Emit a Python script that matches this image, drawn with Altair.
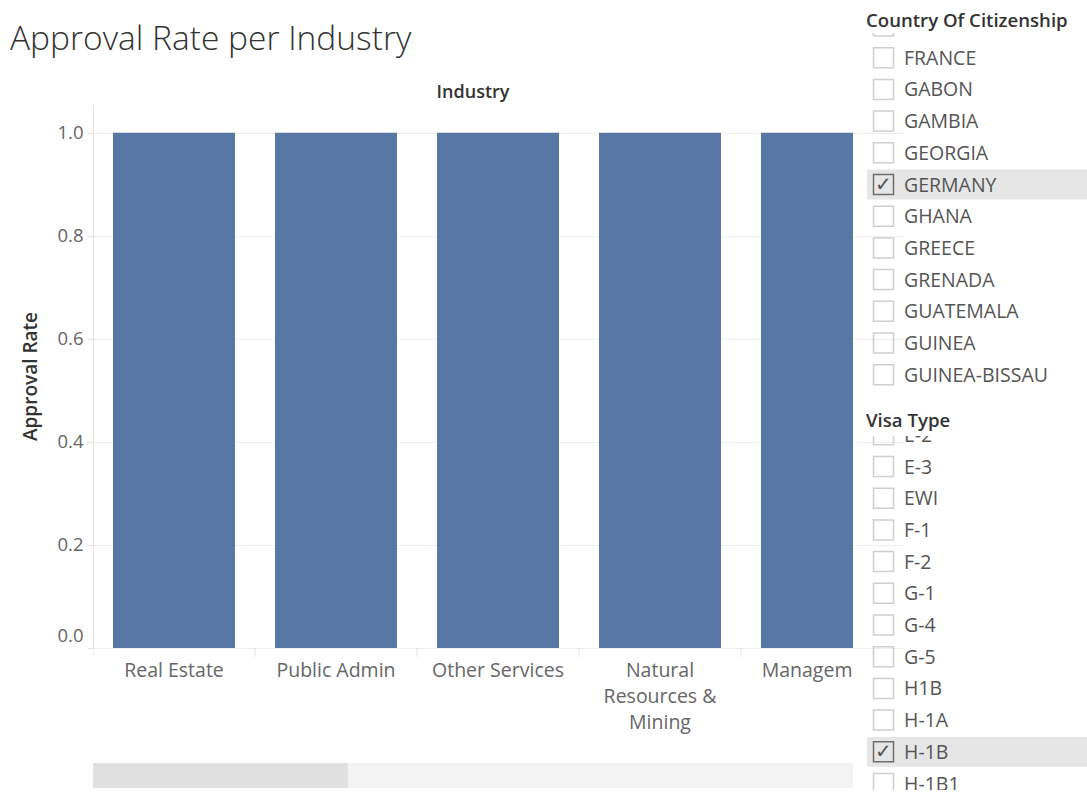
import altair as alt
import pandas as pd

# ---------------- data ----------------
industries = ["Real Estate", "Public Admin", "Other Services",
              "Natural Resources & Mining", "Management"]
approval_rate = [1.0, 1.0, 1.0, 1.0, 1.0]
industry_label_lines = [["Real Estate"], ["Public Admin"], ["Other Services"],
                        ["Natural", "Resources &", "Mining"], ["Management"]]
y_ticks = [0.0, 0.2, 0.4, 0.6, 0.8, 1.0]

chart_title = ["Approval Rate per Industry"]
column_header = ["Industry"]
y_title = "Approval Rate"

country_header = ["Country Of Citizenship"]
country_items = ["FINLAND", "FRANCE", "GABON", "GAMBIA", "GEORGIA", "GERMANY",
                 "GHANA", "GREECE", "GRENADA", "GUATEMALA", "GUINEA", "GUINEA-BISSAU"]
country_selected = ["GERMANY"]

visa_header = ["Visa Type"]
visa_items = ["E-2", "E-3", "EWI", "F-1", "F-2", "G-1", "G-4", "G-5",
              "H1B", "H-1A", "H-1B", "H-1B1"]
visa_selected = ["H-1B"]

industries_total = 14
industries_in_view = 4.69

# ---------------- style ----------------
FONT = "Open Sans"
BAR = "#5778a4"
GRID = "#eeeeee"
AXIS = "#e4e4e4"
TXT = "#666666"
DARK = "#333333"
PLOT_W = 760
STEP_RANGE = 810

# ---------------- header (title + "Industry") ----------------
title_text = alt.Chart(pd.DataFrame({"t": chart_title})).mark_text(
    align="left", baseline="alphabetic", font=FONT, fontSize=33.5, fontWeight=300, color=DARK
).encode(text="t:N", x=alt.value(-83), y=alt.value(50))

industry_head = alt.Chart(pd.DataFrame({"t": column_header})).mark_text(
    align="center", baseline="alphabetic", font=FONT, fontSize=18, fontWeight=600, color=DARK
).encode(text="t:N", x=alt.value(PLOT_W / 2), y=alt.value(98))

header = alt.layer(title_text, industry_head).properties(width=PLOT_W, height=104)

# ---------------- bars ----------------
bars_df = pd.DataFrame({"Industry": industries, "Approval Rate": approval_rate})
bars = alt.Chart(bars_df).mark_bar(color=BAR, clip=True).encode(
    x=alt.X("Industry:N", sort=industries, axis=None,
            scale=alt.Scale(domain=industries, range=[0, STEP_RANGE],
                            paddingInner=40 / 162, paddingOuter=20 / 162)),
    y=alt.Y("Approval Rate:Q", title=y_title,
            scale=alt.Scale(domain=[0, 1.056], nice=False, zero=True),
            axis=alt.Axis(values=y_ticks, format=".1f", labelFlush=True,
                          labelFlushOffset=-3,
                          labelFont=FONT, labelFontSize=18.5, labelColor=TXT,
                          labelPadding=4, tickSize=6, tickColor=AXIS,
                          domainColor=AXIS, gridColor=GRID,
                          titleFont=FONT, titleFontSize=19, titleFontWeight=600,
                          titleColor=DARK, titlePadding=16)),
).properties(width=PLOT_W, height=544)

# ---------------- x labels (clipped like the scrolled view) ----------------
lab_df = pd.DataFrame({"Industry": industries, "lines": industry_label_lines})
x_lab_scale = alt.Scale(domain=industries, range=[0, STEP_RANGE], paddingInner=0, paddingOuter=0)
lab_text = alt.Chart(lab_df).mark_text(
    clip=True, align="center", baseline="alphabetic", font=FONT, fontSize=19.5,
    lineHeight=26, color=TXT
).encode(x=alt.X("Industry:N", sort=industries, axis=None, scale=x_lab_scale),
         y=alt.value(29), text="lines")
lab_sep = alt.Chart(lab_df).mark_rule(clip=True, color=AXIS).encode(
    x=alt.X("Industry:N", sort=industries, axis=None, scale=x_lab_scale, bandPosition=0),
    y=alt.value(0), y2=alt.value(9))
labels = alt.layer(lab_sep, lab_text).properties(width=PLOT_W, height=115)

# ---------------- scroll bar ----------------
track = alt.Chart(pd.DataFrame({"s": [0], "e": [industries_total]})).mark_rect(color="#f3f3f3").encode(
    x=alt.X("s:Q", axis=None, scale=alt.Scale(domain=[0, industries_total], nice=False)),
    x2="e:Q", y=alt.value(0), y2=alt.value(25))
thumb = alt.Chart(pd.DataFrame({"s": [0], "e": [industries_in_view]})).mark_rect(color="#e0e0e0").encode(
    x=alt.X("s:Q", axis=None, scale=alt.Scale(domain=[0, industries_total], nice=False)),
    x2="e:Q", y=alt.value(0), y2=alt.value(25))
scroll = alt.layer(track, thumb).properties(width=PLOT_W, height=25)

left = alt.vconcat(header, bars, labels, scroll, spacing=0, bounds="flush")

# ---------------- filter panels ----------------
PANEL_W = 221


def head_chart(text, baseline_y, h):
    return alt.Chart(pd.DataFrame({"t": text})).mark_text(
        align="left", baseline="alphabetic", font=FONT, fontSize=18.6, fontWeight=600, color=DARK
    ).encode(text="t:N", x=alt.value(0), y=alt.value(baseline_y)).properties(width=PANEL_W, height=h)


def filter_list(items, selected, d0, d1, h):
    df = pd.DataFrame({"item": items, "idx": list(range(len(items))),
                       "checked": [it in selected for it in items]})
    ysc = alt.Scale(domain=[d0, d1], reverse=True, nice=False, zero=False)
    base = alt.Chart(df)
    hl = base.transform_filter("datum.checked").transform_calculate(
        a="datum.idx - 0.47", b="datum.idx + 0.47"
    ).mark_rect(color="#e6e6e6", clip=True).encode(
        x=alt.value(1), x2=alt.value(PANEL_W),
        y=alt.Y("a:Q", scale=ysc, axis=None), y2="b:Q")
    box = base.mark_point(shape="square", size=400, filled=False, strokeWidth=1.5,
                          clip=True, opacity=1).encode(
        x=alt.value(17.5), y=alt.Y("idx:Q", scale=ysc, axis=None),
        color=alt.condition("datum.checked", alt.value("#6e6e6e"), alt.value("#cfcfcf")))
    tick = base.transform_filter("datum.checked").mark_text(
        text="✓", fontSize=20, color="#555555", clip=True, baseline="middle", align="center"
    ).encode(x=alt.value(17.5), y=alt.Y("idx:Q", scale=ysc, axis=None))
    lab = base.mark_text(align="left", baseline="middle", font=FONT, fontSize=19.5,
                         color="#555555", clip=True, dy=1).encode(
        x=alt.value(38), y=alt.Y("idx:Q", scale=ysc, axis=None), text="item:N")
    return alt.layer(hl, box, tick, lab).properties(width=PANEL_W, height=h)


step = 31.7
country_list = filter_list(country_items, country_selected, 7 / step, (360 + 7) / step, 360)
visa_list = filter_list(visa_items, visa_selected, 1.2 / step, (354 + 1.2) / step, 354)

right = alt.vconcat(
    head_chart(country_header, 27, 33),
    country_list,
    head_chart(visa_header, 34, 43),
    visa_list,
    spacing=0, bounds="flush")

chart = alt.hconcat(left, right, spacing=13).properties(
    padding={"left": 10, "top": 0, "right": 0, "bottom": 0},
    background="white",
).configure_view(strokeWidth=0)

chart.save("out.html", embed_options={"renderer": "svg", "actions": False})
